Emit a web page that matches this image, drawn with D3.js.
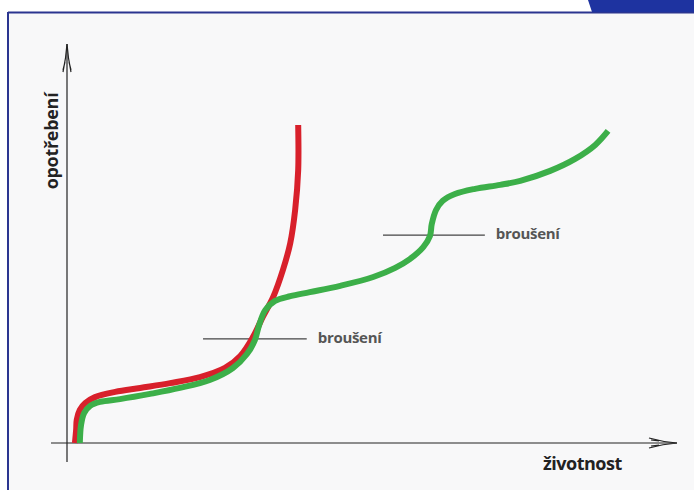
<!DOCTYPE html>
<html><head><meta charset="utf-8">
<script src="https://cdn.jsdelivr.net/npm/d3@7"></script>
<style>html,body{margin:0;padding:0;background:#fff;}svg{display:block;}</style>
</head><body>
<svg id="c" width="694" height="490"></svg>
<script>
// Data (abstract units: x = životnost, y = opotřebení)
const redX   = [1.3,1.5,1.6,2.1,3.0,4.6,7.9,12.0,16.9,21.8,25.9,28.4,30.5,32.1,33.8,35.4,36.6,37.4,37.9,37.9];
const redY   = [0,3.3,5.8,8.3,10.0,11.5,12.8,13.8,15.0,16.5,18.8,21.8,26.6,31.6,36.6,43.4,50.1,58.4,68.4,79.7];
const greenX = [2.1,2.3,2.8,3.8,5.4,8.7,13.6,18.5,23.4,27.2,29.5,30.8,31.5,32.5,34.1,36.6,39.8,44.8,50.2,53.8,56.2,58.4,59.5,59.8,60.5,61.6,63.6,66.9,71.0,74.3,79.2,83.3,86.6,88.7];
const greenY = [0,4.5,7.5,9.3,10.3,11.0,12.3,13.8,15.8,18.8,22.3,25.8,29.6,33.3,35.6,36.8,37.8,39.4,41.6,43.9,46.1,49.1,51.9,54.9,58.4,60.7,62.4,63.7,64.7,65.7,68.2,71.2,74.7,78.2];
const markLabels = ["broušení","broušení"];
const markY      = [26.1, 52.1];
const markX0     = [22.3, 51.8];
const markX1     = [39.3, 68.5];
const xTitle = "životnost";
const yTitle = "opotřebení";

const svg = d3.select("#c");
const x = d3.scaleLinear().domain([0,100]).range([67,677]);
const y = d3.scaleLinear().domain([0,100]).range([443,44]);

// background & frame
svg.append("rect").attr("x",0).attr("y",0).attr("width",694).attr("height",490).attr("fill","#ffffff");
svg.append("rect").attr("x",8).attr("y",12).attr("width",686).attr("height",478).attr("fill","#f8f8f9");
svg.append("line").attr("x1",8).attr("x2",694).attr("y1",12.5).attr("y2",12.5).attr("stroke","#2b3590").attr("stroke-width",2);
svg.append("line").attr("x1",8).attr("x2",8).attr("y1",12).attr("y2",490).attr("stroke","#2b3590").attr("stroke-width",2);
svg.append("path").attr("d","M588,0 L694,0 L694,12 L592,12 Z").attr("fill","#1e33a0");

// axes
const ax = svg.append("g").attr("stroke","#222").attr("fill","none").attr("stroke-width",1.2);
ax.append("line").attr("x1",x(0)).attr("x2",x(0)).attr("y1",462).attr("y2",y(100));
ax.append("line").attr("x1",51).attr("x2",x(100)).attr("y1",y(0)).attr("y2",y(0));
// y arrow head
ax.append("path").attr("d",`M${x(0)},${y(100)} Q${x(0)-1},${y(100)+14} ${x(0)-4},${y(100)+28} M${x(0)},${y(100)} Q${x(0)+1},${y(100)+14} ${x(0)+4},${y(100)+28} M${x(0)-2},${y(100)+18} L${x(0)-4},${y(100)+26} M${x(0)+2},${y(100)+18} L${x(0)+4},${y(100)+26}`);
// x arrow head
ax.append("path").attr("d",`M${x(100)},${y(0)} Q${x(100)-14},${y(0)-1} ${x(100)-28},${y(0)-5} M${x(100)},${y(0)} Q${x(100)-14},${y(0)+1} ${x(100)-28},${y(0)+5} M${x(100)-18},${y(0)-2} L${x(100)-26},${y(0)-3} M${x(100)-18},${y(0)+2} L${x(100)-26},${y(0)+3}`);

// annotation lines
markY.forEach((v,i)=>{
  svg.append("line").attr("x1",x(markX0[i])).attr("x2",x(markX1[i])).attr("y1",y(v)).attr("y2",y(v))
    .attr("stroke","#444").attr("stroke-width",1.1);
  svg.append("text").attr("x",x(markX1[i])+11).attr("y",y(v)+4)
    .attr("font-family","Open Sans, sans-serif").attr("font-weight",700).attr("font-size",15)
    .attr("fill","#555").attr("letter-spacing","-0.3").text(markLabels[i]);
});

const line = d3.line().curve(d3.curveCatmullRom.alpha(0.5));
svg.append("path").attr("d",line(redX.map((d,i)=>[x(d),y(redY[i])])))
  .attr("fill","none").attr("stroke","#d8202b").attr("stroke-width",6).attr("stroke-linecap","butt");
svg.append("path").attr("d",line(greenX.map((d,i)=>[x(d),y(greenY[i])])))
  .attr("fill","none").attr("stroke","#3caf49").attr("stroke-width",6).attr("stroke-linecap","butt");

// titles
svg.append("text").attr("x",543).attr("y",470)
  .attr("font-family","Open Sans, sans-serif").attr("font-weight",700).attr("font-size",18)
  .attr("fill","#222").attr("letter-spacing","-0.5").text(xTitle);
svg.append("text").attr("transform","translate(58,141) rotate(-90)").attr("text-anchor","middle")
  .attr("font-family","Open Sans, sans-serif").attr("font-weight",700).attr("font-size",18)
  .attr("fill","#222").attr("letter-spacing","-0.3").text(yTitle);
</script>
</body></html>
